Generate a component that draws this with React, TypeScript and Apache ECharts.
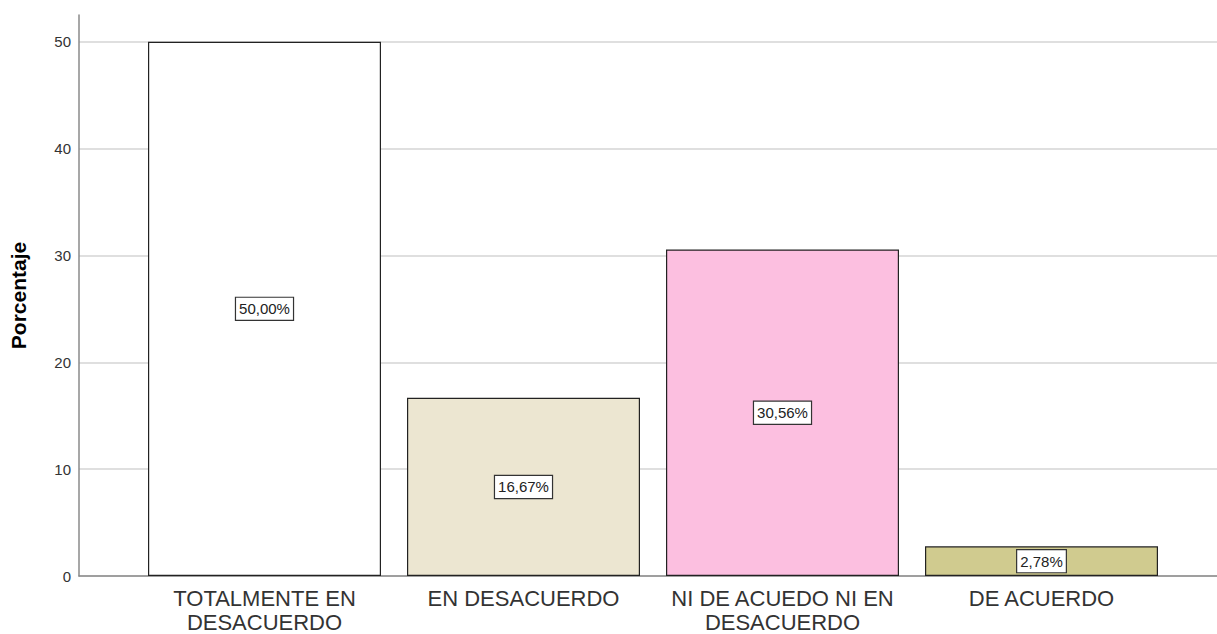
import React, { useEffect, useRef } from "react";
import * as echarts from "echarts";

const categories = ["TOTALMENTE EN\nDESACUERDO", "EN DESACUERDO", "NI DE ACUEDO NI EN\nDESACUERDO", "DE ACUERDO"];
const values = [50.0, 16.67, 30.56, 2.78];
const barColors = ["#ffffff", "#ece6d1", "#fcbfe0", "#d0cb8f"];
const yTicks = [0, 10, 20, 30, 40, 50];

export default function App() {
  const ref = useRef<HTMLDivElement>(null);
  useEffect(() => {
    if (!ref.current) return;
    const chart = echarts.init(ref.current, null, { renderer: "svg" });
    const font = "Arial, 'Liberation Sans', sans-serif";
    const g = "#d4d4d4";
    chart.setOption({
      animation: false,
      backgroundColor: "#ffffff",
      grid: [
        { left: 78, right: 0, top: 15, bottom: 58 },
        { left: 135, right: 46, top: 15, bottom: 58 },
      ],
      xAxis: [
        {
          type: "value", gridIndex: 0, min: 0, max: 1,
          axisLine: { show: true, lineStyle: { color: "#8a8a8a", width: 1.5 } },
          axisTick: { show: false }, axisLabel: { show: false }, splitLine: { show: false },
        },
        {
          type: "category", gridIndex: 1, data: categories,
          axisLine: { show: false }, axisTick: { show: false },
          axisLabel: { color: "#333", fontSize: 22, fontFamily: font, lineHeight: 24, margin: 10, interval: 0 },
        },
      ],
      yAxis: [
        {
          type: "value", gridIndex: 0, min: 0, max: 52.5, interval: 10,
          name: "Porcentaje", nameLocation: "middle", nameGap: 50,
          nameTextStyle: { fontSize: 21, fontWeight: "bold", color: "#000", fontFamily: font },
          axisLine: { show: true, lineStyle: { color: "#8a8a8a", width: 1.5 } },
          axisTick: { show: false },
          axisLabel: {
            color: "#333", fontSize: 15, fontFamily: font, margin: 8,
            formatter: (v: number) => (yTicks.includes(v) ? String(v) : ""),
          },
          splitLine: { show: true, lineStyle: { color: [g, g, g, g, g, g, "rgba(0,0,0,0)"], width: 1.5 } },
        },
        {
          type: "value", gridIndex: 1, min: 0, max: 52.5, interval: 10,
          axisLine: { show: false }, axisTick: { show: false }, axisLabel: { show: false }, splitLine: { show: false },
        },
      ],
      series: [
        {
          type: "bar", xAxisIndex: 1, yAxisIndex: 1, barWidth: 233,
          data: values.map((v, i) => ({ value: v, itemStyle: { color: barColors[i] } })),
          itemStyle: { borderColor: "#222", borderWidth: 1.2 },
          label: {
            show: true, position: "inside", color: "#222", fontSize: 15, fontFamily: font,
            backgroundColor: "#fff", borderColor: "#333", borderWidth: 1.2, padding: [4, 3, 3, 3],
            formatter: (p: any) => p.value.toFixed(2).replace(".", ",") + "%",
          },
        },
      ],
    });
    return () => chart.dispose();
  }, []);
  return <div ref={ref} style={{ width: 1217, height: 634, position: "absolute", left: 0, top: 0 }} />;
}
